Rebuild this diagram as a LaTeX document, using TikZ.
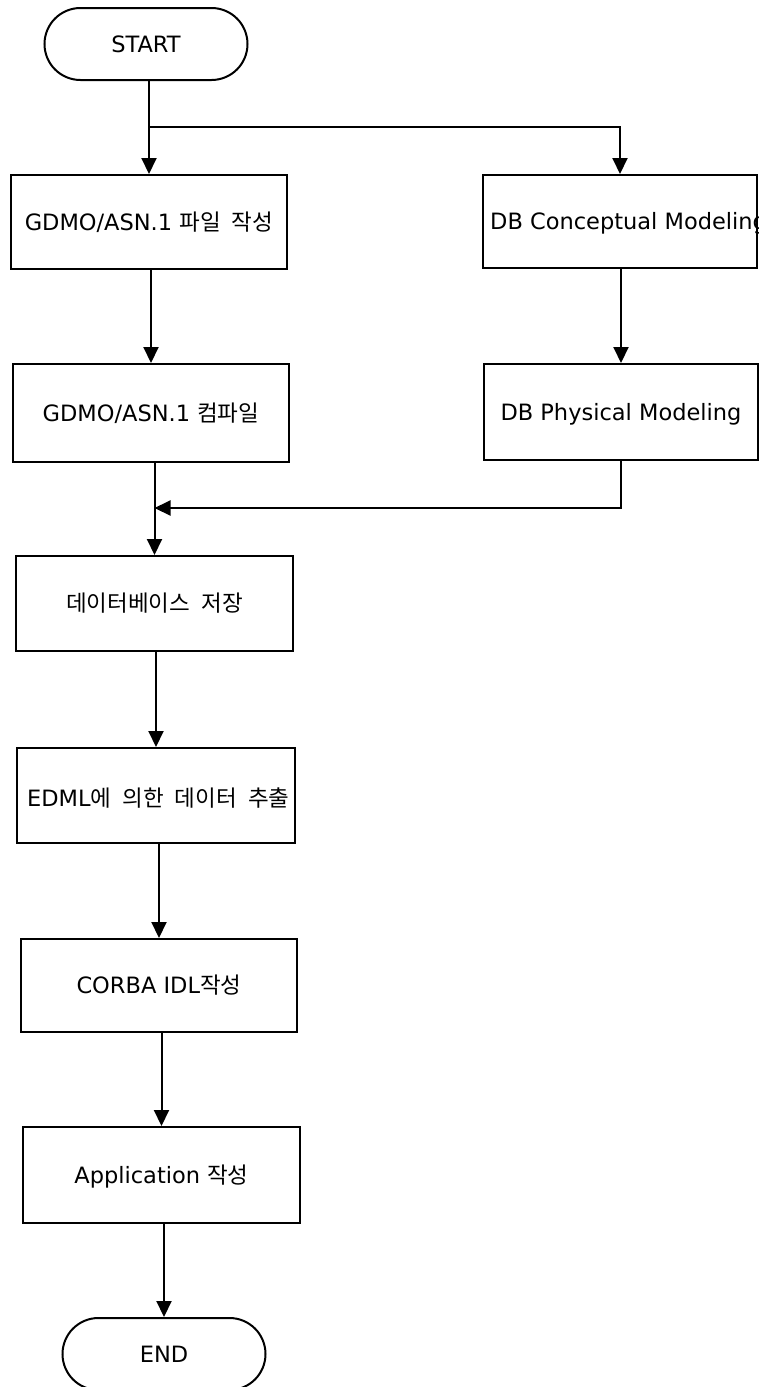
\documentclass[tikz,border=0pt]{standalone}
\usepackage{fontspec}
\setmainfont{DejaVu Sans}
\newfontfamily\kr{Noto Sans CJK KR}[WordSpace=2.2]
\usetikzlibrary{arrows.meta}
\begin{document}
\begin{tikzpicture}[x=1pt,y=-1pt,
  every node/.style={font=\fontsize{22.5}{26}\selectfont},
  ln/.style={line width=2pt},
  arr/.style={ln,-{Triangle[length=16pt,width=15pt]}},
  stepbox/.style={draw,ln,rectangle,inner sep=0pt,text height=16pt,text depth=0pt},
  term/.style={draw,ln,rectangle,rounded corners=36pt,minimum width=203pt,minimum height=72pt,inner sep=0pt,text height=16pt,text depth=0pt},
  freetext/.style={anchor=base west,inner sep=0pt}]
\fill[white] (0,0) rectangle (763,1387);
\useasboundingbox (0,0) rectangle (763,1387);

\node[term] (start) at (146,44) {START};
\node[stepbox,minimum width=276pt,minimum height=94pt] (gdmo) at (149,222) {GDMO/ASN.1 {\kr 파일 작성}};
\node[stepbox,minimum width=274pt,minimum height=93pt] (dbc) at (620,221.5) {};
\node[stepbox,minimum width=276pt,minimum height=98pt] (comp) at (151,413) {GDMO/ASN.1 {\kr 컴파일}};
\node[stepbox,minimum width=274pt,minimum height=96pt] (phys) at (621,412) {DB Physical Modeling};
\node[stepbox,minimum width=277pt,minimum height=95pt] (save) at (154.5,603.5) {\kr 데이터베이스 저장};
\node[stepbox,minimum width=278pt,minimum height=95pt] (edml) at (156,795.5) {};
\node[stepbox,minimum width=276pt,minimum height=93pt] (corba) at (159,985.5) {CORBA IDL{\kr 작성}};
\node[stepbox,minimum width=277pt,minimum height=96pt] (app) at (161.5,1175) {Application {\kr 작성}};
\node[term] (end) at (164,1354) {END};

\begin{scope}
  \clip (dbc.south west) rectangle (dbc.north east);
  \node[freetext] (dbct) at (490,229) {DB Conceptual Modeling};
\end{scope}
\begin{scope}
  \clip (edml.south west) rectangle (edml.north east);
  \node[freetext] (edmlt) at (27,806) {EDML{\kr 에 의한 데이터 추출}};
\end{scope}

\coordinate (br) at (149,127);
\coordinate (jn) at (154.5,508);

\draw[arr] (gdmo.north |- start.south) -- (gdmo.north);
\draw[arr] (br) -| (dbc.north);
\draw[arr] (comp.north |- gdmo.south) -- (comp.north);
\draw[arr] (phys.north |- dbc.south) -- (phys.north);
\draw[arr] (phys.south) |- (jn);
\draw[arr] (save.north |- comp.south) -- (save.north);
\draw[arr] (edml.north |- save.south) -- (edml.north);
\draw[arr] (corba.north |- edml.south) -- (corba.north);
\draw[arr] (app.north |- corba.south) -- (app.north);
\draw[arr] (end.north |- app.south) -- (end.north);
\end{tikzpicture}
\end{document}
